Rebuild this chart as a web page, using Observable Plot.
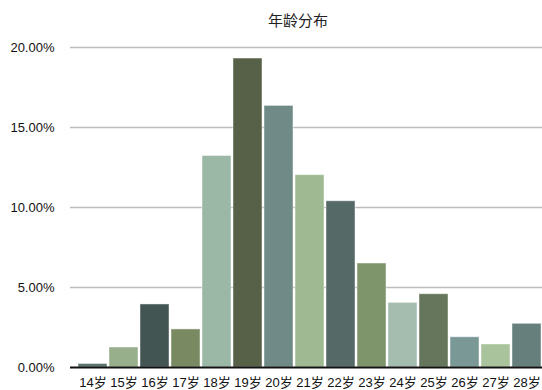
<!DOCTYPE html>
<html>
<head>
<meta charset="utf-8">
<script src="https://cdn.jsdelivr.net/npm/d3@7"></script>
<script src="https://cdn.jsdelivr.net/npm/@observablehq/plot@0.6"></script>
<style>
  body { margin: 0; background: #fff; font-family: "Liberation Sans", Arial, "Noto Sans CJK SC", sans-serif; }
  #title {
    width: 542px; box-sizing: border-box; height: 34px;
    padding: 11px 0 0 54px; line-height: 20px;
    text-align: center; font-size: 15px; color: #222;
  }
</style>
</head>
<body>
<div id="title">年龄分布</div>
<div id="chart"></div>
<script>
// Age groups and their share of respondents (percent)
const ages = ["14岁", "15岁", "16岁", "17岁", "18岁", "19岁", "20岁", "21岁", "22岁", "23岁", "24岁", "25岁", "26岁", "27岁", "28岁"];
const shares = [0.22, 1.25, 3.94, 2.38, 13.22, 19.31, 16.35, 12.02, 10.39, 6.5, 4.04, 4.58, 1.89, 1.44, 2.73];
const yTicks = [0, 5, 10, 15, 20];

// One muted green/teal tone per bar
const palette = [
  "#5a7570", "#97b08b", "#435552", "#798a62", "#9bb8a6",
  "#566148", "#708b87", "#9fba93", "#556966", "#7e956c",
  "#a4bdaf", "#66765d", "#7a9896", "#a9c39c", "#667e7c"
];

const rows = ages.map((age, i) => ({ age, share: shares[i] }));

const chart = Plot.plot({
  width: 542,
  height: 356,
  marginLeft: 70,
  marginRight: 0,
  marginTop: 13,
  marginBottom: 23,
  style: { fontFamily: '"Liberation Sans", Arial, "Noto Sans CJK SC", sans-serif', fontSize: "13px", color: "#111", background: "#fff" },
  x: { domain: ages, paddingInner: 0.07, paddingOuter: 0.14, align: 0.92, label: null },
  y: { domain: [0, 20], label: null },
  color: { domain: ages, range: palette },
  marks: [
    Plot.ruleY(yTicks.filter(t => t > 0), { stroke: "#bdbdbd", strokeWidth: 1.5 }),
    Plot.barY(rows, { x: "age", y: "share", fill: "age", stroke: "#fff", strokeOpacity: 0.45, strokeWidth: 1 }),
    Plot.ruleY([0], { stroke: "#111", strokeWidth: 2 }),
    Plot.axisY(yTicks, { tickSize: 0, tickPadding: 16, tickFormat: d => d.toFixed(2) + "%", label: null }),
    Plot.axisX({ tickSize: 0, tickPadding: 10, label: null })
  ]
});

document.getElementById("chart").appendChild(chart);
</script>
</body>
</html>
